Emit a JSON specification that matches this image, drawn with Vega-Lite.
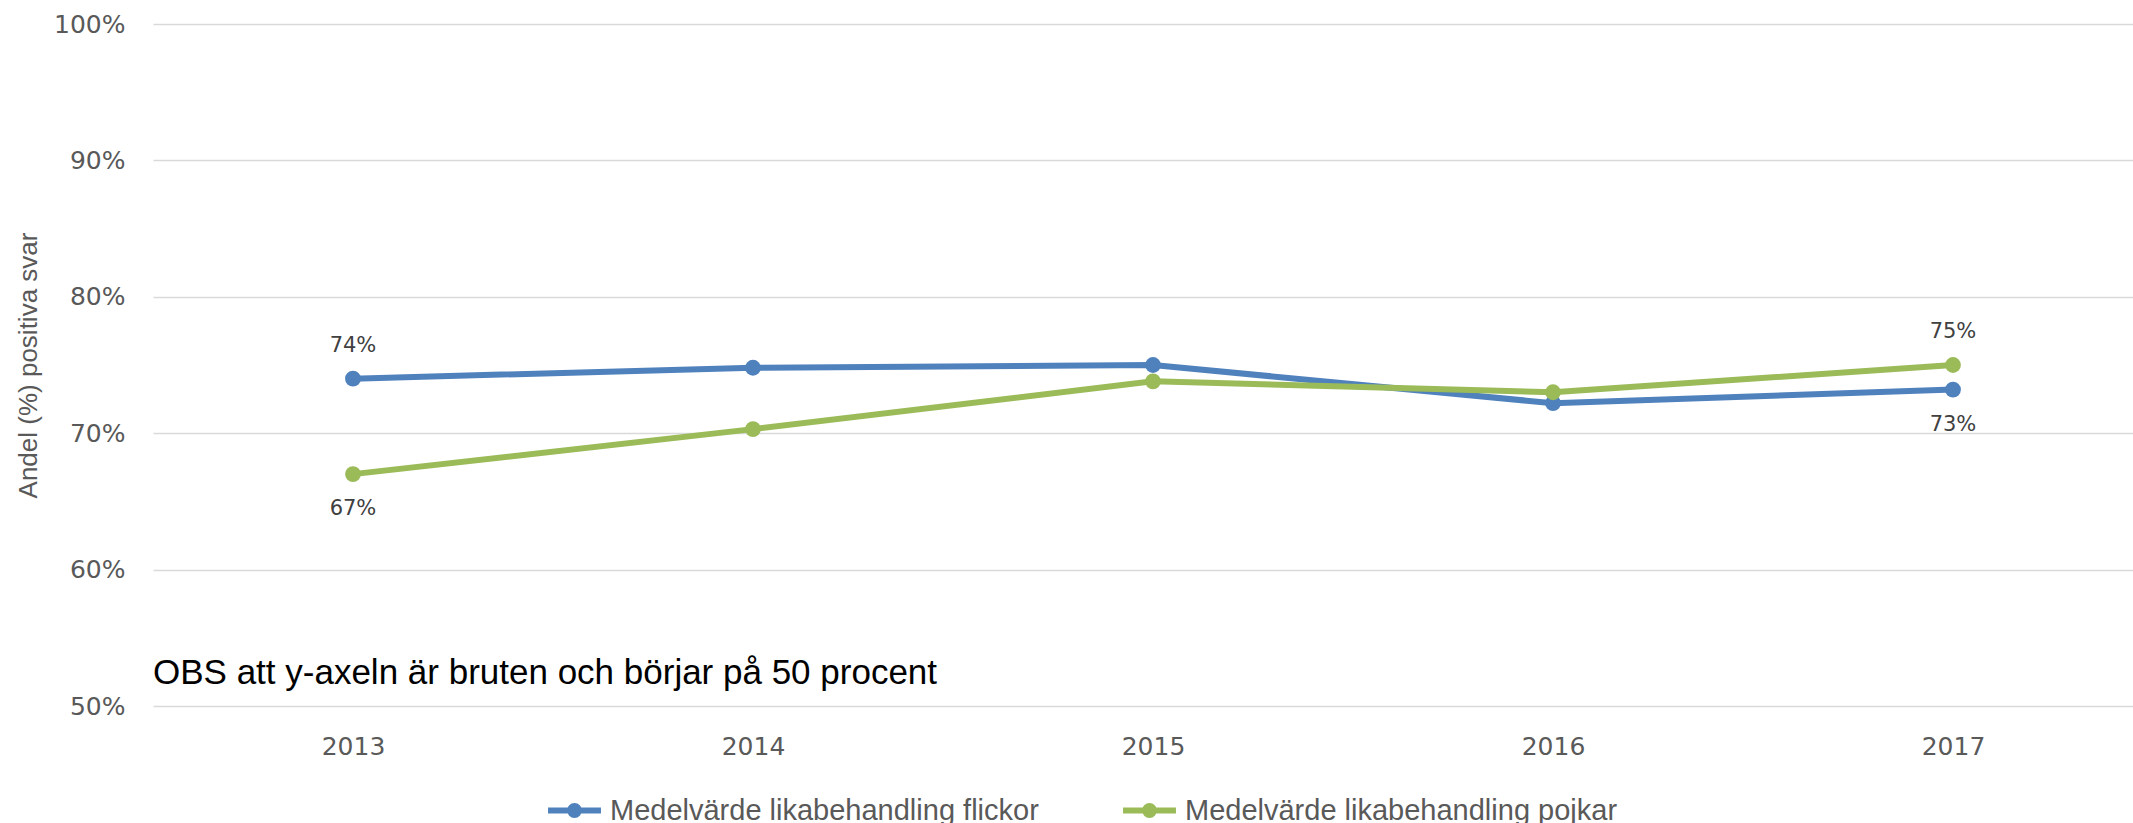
{
  "$schema": "https://vega.github.io/schema/vega-lite/v6.json",
  "width": 1980,
  "height": 682,
  "autosize": {"type": "none"},
  "padding": {"left": 153, "top": 24, "right": 0, "bottom": 117},
  "background": "white",
  "config": {"view": {"stroke": null}, "font": "DejaVu Sans"},
  "datasets": {
    "main": [
      {"year": "2013", "series": "Medelvärde likabehandling flickor", "value": 0.740},
      {"year": "2014", "series": "Medelvärde likabehandling flickor", "value": 0.748},
      {"year": "2015", "series": "Medelvärde likabehandling flickor", "value": 0.750},
      {"year": "2016", "series": "Medelvärde likabehandling flickor", "value": 0.722},
      {"year": "2017", "series": "Medelvärde likabehandling flickor", "value": 0.732},
      {"year": "2013", "series": "Medelvärde likabehandling pojkar", "value": 0.670},
      {"year": "2014", "series": "Medelvärde likabehandling pojkar", "value": 0.703},
      {"year": "2015", "series": "Medelvärde likabehandling pojkar", "value": 0.738},
      {"year": "2016", "series": "Medelvärde likabehandling pojkar", "value": 0.730},
      {"year": "2017", "series": "Medelvärde likabehandling pojkar", "value": 0.750}
    ],
    "note": [
      {"note": "OBS att y-axeln är bruten och börjar på 50 procent", "y": 0.524}
    ]
  },
  "layer": [
    {
      "data": {"name": "main"},
      "mark": {"type": "line", "strokeWidth": 6, "point": {"size": 250, "filled": true}},
      "encoding": {
        "x": {
          "field": "year",
          "type": "ordinal",
          "scale": {"type": "point", "padding": 0.475, "align": 0.5263},
          "axis": {
            "title": null,
            "labelAngle": 0,
            "labelFontSize": 25,
            "labelColor": "#595959",
            "labelPadding": 28,
            "ticks": false,
            "domain": false,
            "grid": false
          }
        },
        "y": {
          "field": "value",
          "type": "quantitative",
          "scale": {"domain": [0.5, 1.0], "nice": false, "zero": false},
          "axis": {
            "format": ".0%",
            "values": [0.5, 0.6, 0.7, 0.8, 0.9, 1.0],
            "title": "Andel (%) positiva svar",
            "titleFont": "Liberation Sans",
            "titleFontSize": 26,
            "titleFontWeight": "normal",
            "titleColor": "#595959",
            "titlePadding": 12,
            "labelFontSize": 25,
            "labelColor": "#595959",
            "labelPadding": 28,
            "ticks": false,
            "domain": false,
            "gridColor": "#D9D9D9",
            "gridWidth": 1.5
          }
        },
        "color": {
          "field": "series",
          "type": "nominal",
          "scale": {
            "domain": ["Medelvärde likabehandling flickor", "Medelvärde likabehandling pojkar"],
            "range": ["#4F81BD", "#9BBB59"]
          },
          "legend": {
            "orient": "none",
            "legendX": 392,
            "legendY": 757,
            "direction": "horizontal",
            "title": null,
            "symbolType": "M-1,0L1,0M-0.17,0a0.17,0.17 0 1,0 0.34,0a0.17,0.17 0 1,0 -0.34,0",
            "symbolSize": 2800,
            "symbolStrokeWidth": 6,
            "labelFont": "Liberation Sans",
            "labelFontSize": 29,
            "labelColor": "#595959",
            "labelOffset": 6,
            "columnPadding": 72,
            "labelLimit": 0
          }
        }
      }
    },
    {
      "data": {"name": "main"},
      "transform": [
        {"filter": "(datum.year == '2013' && datum.series == 'Medelvärde likabehandling flickor') || (datum.year == '2017' && datum.series == 'Medelvärde likabehandling pojkar')"}
      ],
      "mark": {"type": "text", "dy": -33, "fontSize": 21, "color": "#404040"},
      "encoding": {
        "x": {"field": "year", "type": "ordinal"},
        "y": {"field": "value", "type": "quantitative"},
        "text": {"field": "value", "type": "quantitative", "format": ".0%"}
      }
    },
    {
      "data": {"name": "main"},
      "transform": [
        {"filter": "(datum.year == '2013' && datum.series == 'Medelvärde likabehandling pojkar') || (datum.year == '2017' && datum.series == 'Medelvärde likabehandling flickor')"}
      ],
      "mark": {"type": "text", "dy": 35, "fontSize": 21, "color": "#404040"},
      "encoding": {
        "x": {"field": "year", "type": "ordinal"},
        "y": {"field": "value", "type": "quantitative"},
        "text": {"field": "value", "type": "quantitative", "format": ".0%"}
      }
    },
    {
      "data": {"name": "note"},
      "mark": {"type": "text", "align": "left", "baseline": "middle", "font": "Liberation Sans", "fontSize": 35, "fill": "#000000"},
      "encoding": {
        "x": {"value": 0},
        "y": {"field": "y", "type": "quantitative"},
        "text": {"field": "note", "type": "nominal"}
      }
    }
  ]
}
